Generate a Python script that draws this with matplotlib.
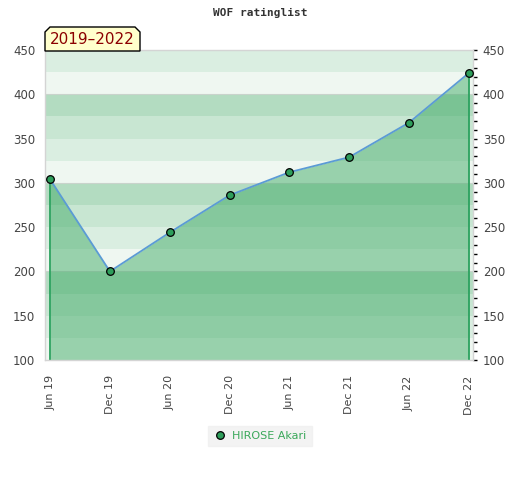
import matplotlib.pyplot as plt
from matplotlib.patches import Polygon
from matplotlib.ticker import MultipleLocator

periods = ["Jun 19", "Dec 19", "Jun 20", "Dec 20", "Jun 21", "Dec 21", "Jun 22", "Dec 22"]
ratings = [304, 200, 244, 286, 312, 329, 368, 424]
player = "HIROSE Akari"
span_label = "2019\u20132022"

band_colors = ["#eff7f1", "#daeee1", "#c8e6d2", "#b3dcc1"]  # bottom-up within each 100


def draw_chart():
    fig = plt.figure(figsize=(5.2, 4.8), dpi=100)
    ax = fig.add_axes([45 / 520, 1 - 360 / 480, 428 / 520, 310 / 480])

    # striped background, 25 points per stripe
    for i, low in enumerate(range(100, 450, 25)):
        ax.axhspan(low, low + 25, color=band_colors[i % 4], lw=0, zorder=0)
    for y in (200, 300, 400):
        ax.axhline(y, color="#c9d3cc", lw=0.8, zorder=0.5)

    x = list(range(len(ratings)))
    ax.fill_between(x, ratings, 100, color="#43ac69", alpha=0.5, lw=0, zorder=1)
    ax.vlines([x[0], x[-1]], 100, [ratings[0], ratings[-1]], color="#2ca25f", lw=1.3, zorder=2)
    ax.plot(x, ratings, color="#5b9bd5", lw=1.3, zorder=3)
    ax.plot(x, ratings, ls="none", marker="o", ms=5.5, mfc="#2e9e5b", mec="black",
            mew=0.9, zorder=4, label=player)

    ax.set_xlim(-0.085, 7.07)
    ax.set_ylim(100, 450)
    ax.set_xticks(x)
    ax.set_xticklabels(periods, rotation=90, fontsize=8, color="#444444")
    ax.yaxis.set_major_locator(MultipleLocator(50))
    ax.yaxis.set_minor_locator(MultipleLocator(10))
    ax.tick_params(axis="y", which="both", labelleft=True, labelright=True, left=False,
                   right=True, labelsize=8.5, labelcolor="#444444", pad=4)
    ax.tick_params(axis="y", which="both", direction="out", length=3, width=1, color="black")
    ax.tick_params(axis="x", length=0, pad=11)
    for side in ax.spines.values():
        side.set_color("#d4d4d4")
        side.set_linewidth(1)

    fig.text(0.5, 1 - 13 / 480, "WOF ratinglist", ha="center", va="center",
             family="DejaVu Sans Mono", weight="bold", fontsize=8, color="#333333")

    # year span tag with clipped top corners
    l, r, t, b = 45, 140, 27, 51
    c = 5
    pts = [(l, b), (l, t + c), (l + c, t), (r - c, t), (r, t + c), (r, b)]
    pts = [(px / 520, 1 - py / 480) for px, py in pts]
    fig.patches.append(Polygon(pts, closed=True, transform=fig.transFigure,
                               facecolor="#ffffcc", edgecolor="black", lw=1, zorder=5))
    fig.text((l + r) / 2 / 520, 1 - 40 / 480, span_label, ha="center", va="center",
             fontsize=11, color="#8b0000", zorder=6)

    leg = fig.legend(loc="center", bbox_to_anchor=(0.5, 1 - 436 / 480), frameon=True,
                     fontsize=8, handletextpad=0.5, handlelength=1.2, borderpad=0.45)
    leg.get_frame().set_facecolor("#f0f0f0")
    leg.get_frame().set_edgecolor("#f0f0f0")
    leg.get_frame().set_boxstyle("square", pad=0)
    for text in leg.get_texts():
        text.set_color("#3aa85a")

    fig.savefig("out.png", dpi=100)
    plt.close(fig)


if __name__ == "__main__":
    draw_chart()
